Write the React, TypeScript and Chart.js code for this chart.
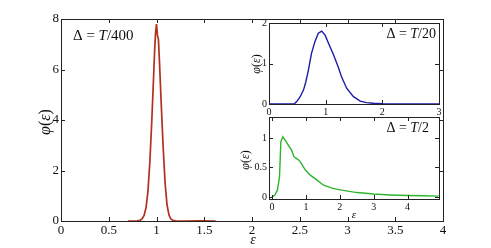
import React, { useEffect, useRef } from "react";
import { Chart, registerables } from "chart.js";

Chart.register(...registerables);

// ---------- DATA ----------
// Main panel: Δ = T/400
const mainEps = [0.7, 0.75, 0.8, 0.83, 0.85, 0.87, 0.89, 0.91, 0.93, 0.95, 0.97, 0.98, 0.99, 1.0, 1.01, 1.02, 1.03, 1.05, 1.07, 1.09, 1.11, 1.13, 1.15, 1.17, 1.2, 1.3, 1.45, 1.62];
const mainPhi = [0, 0, 0.01, 0.03, 0.09, 0.22, 0.52, 1.15, 2.3, 3.9, 5.75, 6.7, 7.45, 7.8, 7.35, 7.2, 6.4, 4.6, 2.9, 1.5, 0.65, 0.25, 0.08, 0.03, 0.01, 0, 0.005, 0];
const mainXTicks = [0, 0.5, 1, 1.5, 2, 2.5, 3, 3.5, 4];
const mainYTicks = [0, 2, 4, 6, 8];

// Inset 1: Δ = T/20
const inset1Eps = [0, 0.4, 0.45, 0.49, 0.55, 0.61, 0.65, 0.69, 0.75, 0.81, 0.87, 0.93, 0.99, 1.05, 1.14, 1.22, 1.28, 1.37, 1.49, 1.61, 1.72, 1.84, 2.0, 2.2, 2.6, 3.0];
const inset1Phi = [0, 0, 0.01, 0.06, 0.18, 0.35, 0.55, 0.8, 1.25, 1.54, 1.75, 1.8, 1.7, 1.5, 1.21, 0.92, 0.67, 0.39, 0.18, 0.07, 0.035, 0.02, 0.01, 0.004, 0, 0];
const inset1XTicks = [0, 1, 2, 3];
const inset1YTicks = [0, 1, 2];

// Inset 2: Δ = T/2
const inset2Eps = [0, 0.08, 0.16, 0.22, 0.26, 0.32, 0.39, 0.48, 0.58, 0.65, 0.78, 0.83, 0.98, 1.13, 1.32, 1.52, 1.77, 2.01, 2.51, 3.0, 3.5, 4.0, 4.5, 4.92];
const inset2Phi = [0, 0.03, 0.12, 0.34, 0.94, 1.02, 0.96, 0.88, 0.79, 0.68, 0.63, 0.6, 0.46, 0.37, 0.29, 0.2, 0.15, 0.12, 0.075, 0.05, 0.035, 0.025, 0.02, 0.015];
const inset2XTicks = [0, 1, 2, 3, 4];
const inset2YTicks = [0, 0.5, 1];

const W = 491;
const H = 248;

type Seg = { t: string; italic?: boolean };
type TextItem = { segs: Seg[]; x: number; y: number; size: number; align?: "left" | "right" | "center"; rotate?: boolean };

const SERIF = '"Liberation Serif", "DejaVu Serif", serif';

const boxPlugin = {
  id: "boxTicks",
  afterDraw(chart: any, _args: any, opts: any) {
    const ctx = chart.ctx as CanvasRenderingContext2D;
    const { left, right, top, bottom } = chart.chartArea;
    const tl = opts.tickLen ?? 4;
    ctx.save();
    ctx.strokeStyle = opts.color || "#222";
    ctx.lineWidth = 1;
    ctx.beginPath();
    const xs = chart.scales.x;
    const ys = chart.scales.y;
    xs.ticks.forEach((t: any) => {
      const p = Math.round(xs.getPixelForValue(t.value)) + 0.5;
      ctx.moveTo(p, bottom);
      ctx.lineTo(p, bottom - tl);
      ctx.moveTo(p, top);
      ctx.lineTo(p, top + tl);
    });
    ys.ticks.forEach((t: any) => {
      const p = Math.round(ys.getPixelForValue(t.value)) + 0.5;
      ctx.moveTo(left, p);
      ctx.lineTo(left + tl, p);
      ctx.moveTo(right, p);
      ctx.lineTo(right - tl, p);
    });
    ctx.stroke();
    ctx.strokeRect(Math.round(left) + 0.5, Math.round(top) + 0.5, Math.round(right - left), Math.round(bottom - top));
    // texts
    const texts: TextItem[] = opts.texts || [];
    texts.forEach((it) => {
      ctx.save();
      ctx.fillStyle = "#111";
      ctx.textBaseline = "alphabetic";
      ctx.textAlign = "left";
      const fontFor = (s: Seg) => `${s.italic ? "italic " : ""}${it.size}px ${SERIF}`;
      let total = 0;
      it.segs.forEach((s) => {
        ctx.font = fontFor(s);
        total += ctx.measureText(s.t).width;
      });
      ctx.translate(it.x, it.y);
      if (it.rotate) ctx.rotate(-Math.PI / 2);
      let x0 = 0;
      if (it.align === "right") x0 = -total;
      else if (it.align === "center") x0 = -total / 2;
      it.segs.forEach((s) => {
        ctx.font = fontFor(s);
        ctx.fillText(s.t, x0, 0);
        x0 += ctx.measureText(s.t).width;
      });
      ctx.restore();
    });
    ctx.restore();
  },
};

function makeConfig(p: {
  xs: number[]; ys: number[]; color: string; width: number;
  xmin: number; xmax: number; ymin: number; ymax: number;
  xticks: number[]; yticks: number[]; font: number;
  area: { left: number; top: number; right: number; bottom: number };
  texts: TextItem[];
}) {
  const yW = 30;
  const xH = 25;
  return {
    type: "line" as const,
    data: {
      datasets: [
        {
          data: p.xs.map((x, i) => ({ x, y: p.ys[i] })),
          borderColor: p.color,
          borderWidth: p.width,
          pointRadius: 0,
          tension: 0,
          fill: false,
        },
      ],
    },
    options: {
      animation: false,
      responsive: false,
      devicePixelRatio: 1,
      events: [],
      layout: {
        autoPadding: false,
        padding: {
          left: p.area.left - yW,
          top: p.area.top,
          right: W - p.area.right,
          bottom: H - p.area.bottom - xH,
        },
      },
      plugins: {
        legend: { display: false },
        tooltip: { enabled: false },
        boxTicks: { texts: p.texts, tickLen: 4 },
      },
      scales: {
        x: {
          type: "linear",
          min: p.xmin,
          max: p.xmax,
          grid: { display: false, drawTicks: false },
          border: { display: false },
          afterFit: (s: any) => { s.height = xH; },
          afterBuildTicks: (s: any) => { s.ticks = p.xticks.map((v) => ({ value: v })); },
          ticks: {
            padding: 2,
            maxRotation: 0,
            autoSkip: false,
            color: "#111",
            font: { family: SERIF, size: p.font },
            callback: (v: any) => String(v),
          },
        },
        y: {
          type: "linear",
          min: p.ymin,
          max: p.ymax,
          grid: { display: false, drawTicks: false },
          border: { display: false },
          afterFit: (s: any) => { s.width = yW; },
          afterBuildTicks: (s: any) => { s.ticks = p.yticks.map((v) => ({ value: v })); },
          ticks: {
            padding: 2,
            autoSkip: false,
            color: "#111",
            font: { family: SERIF, size: p.font },
            callback: (v: any) => String(v),
          },
        },
      },
    },
    plugins: [boxPlugin],
  };
}

export default function App() {
  const c1 = useRef<HTMLCanvasElement>(null);
  const c2 = useRef<HTMLCanvasElement>(null);
  const c3 = useRef<HTMLCanvasElement>(null);

  useEffect(() => {
    const charts: Chart[] = [];
    charts.push(
      new Chart(
        c1.current!,
        makeConfig({
          xs: mainEps, ys: mainPhi, color: "#b3301e", width: 1.7,
          xmin: 0, xmax: 4, ymin: 0, ymax: 8,
          xticks: mainXTicks, yticks: mainYTicks, font: 13,
          area: { left: 61, top: 19, right: 443, bottom: 221 },
          texts: [
            { segs: [{ t: "Δ = " }, { t: "T", italic: true }, { t: "/400" }], x: 73, y: 40, size: 15 },
            { segs: [{ t: "φ", italic: true }, { t: "(" }, { t: "ε", italic: true }, { t: ")" }], x: 50, y: 122, size: 16, rotate: true, align: "center" },
            { segs: [{ t: "ε", italic: true }], x: 253, y: 244, size: 14, align: "center" },
          ],
        }) as any
      )
    );
    charts.push(
      new Chart(
        c2.current!,
        makeConfig({
          xs: inset1Eps, ys: inset1Phi, color: "#1c1ca8", width: 1.4,
          xmin: 0, xmax: 3, ymin: 0, ymax: 2,
          xticks: inset1XTicks, yticks: inset1YTicks, font: 10,
          area: { left: 269, top: 23, right: 439, bottom: 104 },
          texts: [
            { segs: [{ t: "Δ = " }, { t: "T", italic: true }, { t: "/20" }], x: 436, y: 38, size: 14, align: "right" },
            { segs: [{ t: "φ", italic: true }, { t: "(" }, { t: "ε", italic: true }, { t: ")" }], x: 260, y: 64, size: 12, rotate: true, align: "center" },
          ],
        }) as any
      )
    );
    charts.push(
      new Chart(
        c3.current!,
        makeConfig({
          xs: inset2Eps, ys: inset2Phi, color: "#2db52d", width: 1.4,
          xmin: -0.09, xmax: 4.93, ymin: -0.034, ymax: 1.356,
          xticks: inset2XTicks, yticks: inset2YTicks, font: 10,
          area: { left: 269, top: 117, right: 439, bottom: 199 },
          texts: [
            { segs: [{ t: "Δ = " }, { t: "T", italic: true }, { t: "/2" }], x: 429, y: 132, size: 14, align: "right" },
            { segs: [{ t: "φ", italic: true }, { t: "(" }, { t: "ε", italic: true }, { t: ")" }], x: 249, y: 160, size: 12, rotate: true, align: "center" },
            { segs: [{ t: "ε", italic: true }], x: 354, y: 218, size: 11, align: "center" },
          ],
        }) as any
      )
    );
    return () => charts.forEach((c) => c.destroy());
  }, []);

  const cs: React.CSSProperties = { position: "absolute", left: 0, top: 0, width: W, height: H };
  return (
    <div style={{ position: "fixed", left: 0, top: 0, width: W, height: H, background: "#fff" }}>
      <canvas ref={c1} width={W} height={H} style={cs} />
      <canvas ref={c2} width={W} height={H} style={cs} />
      <canvas ref={c3} width={W} height={H} style={cs} />
    </div>
  );
}
